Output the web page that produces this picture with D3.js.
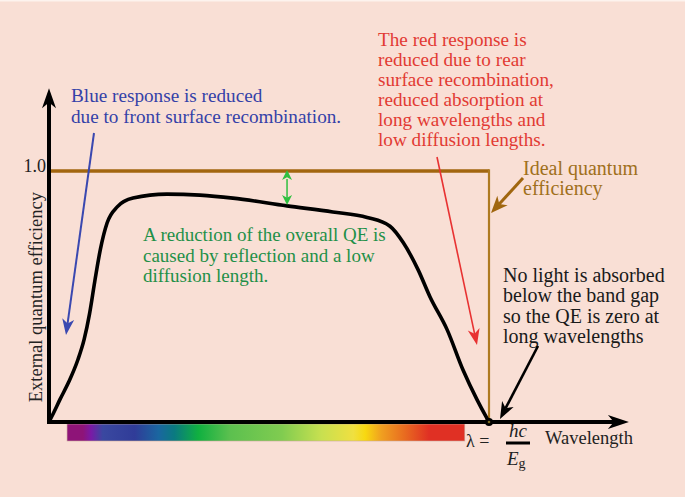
<html>
<head>
<title>Quantum efficiency</title>
<script src="https://cdn.jsdelivr.net/npm/d3@7"></script>
<style>
    body { margin: 0; background: #f9dfd5; }
</style>
</head>
<body>
<script>
// measured QE curve, wavelength as a fraction of the band gap wavelength
let wavelength = [0, 0.01, 0.025, 0.045, 0.065, 0.08, 0.092, 0.104, 0.117, 0.132, 0.155, 0.191, 0.268, 0.343, 0.418, 0.541, 0.645, 0.723, 0.775, 0.805, 0.839, 0.866, 0.905, 0.941, 0.973, 0.993, 1]
let qe = [0, 0.035, 0.09, 0.16, 0.245, 0.33, 0.43, 0.56, 0.69, 0.793, 0.857, 0.892, 0.908, 0.904, 0.892, 0.861, 0.837, 0.815, 0.78, 0.715, 0.606, 0.498, 0.367, 0.207, 0.088, 0.022, 0]
let idealQE = 1.0
let bandGap = 1.0
let yTickLabels = ["1.0"]
let spectrumRange = [0.041, 0.945]
let spectrumOffsets = [0, 0.04, 0.06, 0.09, 0.17, 0.23, 0.27, 0.33, 0.41, 0.54, 0.64, 0.72, 0.75, 0.79, 0.85, 0.91, 1]
let spectrumColors = ["#8e1478", "#8e1478", "#7a1aa6", "#3a48a0", "#303c98", "#1a66a0", "#0a7a80", "#10b040", "#5cc04f", "#80cc50", "#c8e050", "#f0e040", "#f8d810", "#f0a020", "#e86a20", "#e03024", "#e03024"]

let w = 685
let h = 497
let x0 = 49, x1 = 489
let y0 = 422, y1 = 171
let serif = "'Liberation Serif', 'Times New Roman', Times, serif"

let svg = d3.select("body").append("svg")
    .attr("width", w).attr("height", h)
    .attr("font-family", serif)

svg.append("rect").attr("width", w).attr("height", h).attr("fill", "#f9dfd5")
svg.append("rect").attr("width", w).attr("height", 1.5).attr("fill", "#fdf3ee")

let x = d3.scaleLinear().domain([0, 1]).range([x0, x1])
let y = d3.scaleLinear().domain([0, 1]).range([y0, y1])

function arrowHead(g, tx, ty, fx, fy, len, half, color) {
    let a = Math.atan2(ty - fy, tx - fx)
    let c = Math.cos(a), s = Math.sin(a)
    let pt = (u, v) => [tx - u * c - v * s, ty - u * s + v * c]
    let p = [pt(0, 0), pt(len, -half), pt(len * 0.72, 0), pt(len, half)]
    g.append("path").attr("d", "M" + p.map(d => d.join(",")).join("L") + "Z").attr("fill", color)
}
function arrow(fx, fy, tx, ty, color, sw, len, half) {
    let a = Math.atan2(ty - fy, tx - fx)
    svg.append("line")
        .attr("x1", fx).attr("y1", fy)
        .attr("x2", tx - Math.cos(a) * len * 0.7).attr("y2", ty - Math.sin(a) * len * 0.7)
        .attr("stroke", color).attr("stroke-width", sw)
    arrowHead(svg, tx, ty, fx, fy, len, half, color)
}

// spectrum bar
let grad = svg.append("defs").append("linearGradient").attr("id", "spec")
grad.selectAll("stop").data(spectrumOffsets).enter().append("stop")
    .attr("offset", d => d)
    .attr("stop-color", (d, i) => spectrumColors[i])
svg.append("rect")
    .attr("x", x(spectrumRange[0])).attr("y", y0 + 2)
    .attr("width", x(spectrumRange[1]) - x(spectrumRange[0])).attr("height", 17)
    .attr("fill", "url(#spec)")
    .attr("stroke", "#c9a89a").attr("stroke-width", 0.6)

// ideal QE
svg.append("path")
    .attr("d", "M" + x(0) + "," + y(idealQE) + "H" + x(bandGap))
    .attr("stroke", "#a2660f").attr("stroke-width", 3.5).attr("fill", "none")
svg.append("line")
    .attr("x1", x(bandGap)).attr("x2", x(bandGap))
    .attr("y1", y(idealQE) - 1.7).attr("y2", y(0))
    .attr("stroke", "#ae7a22").attr("stroke-width", 2.2)

// measured QE curve
let line = d3.line()
    .x((d, i) => x(wavelength[i]))
    .y(d => y(d))
    .curve(d3.curveMonotoneX)
svg.append("path")
    .datum(qe)
    .attr("d", line)
    .attr("fill", "none").attr("stroke", "#000").attr("stroke-width", 3.6)

// axes
svg.append("line").attr("x1", x(0)).attr("x2", x(1.29)).attr("y1", y0).attr("y2", y0)
    .attr("stroke", "#000").attr("stroke-width", 4)
arrowHead(svg, x(1.318), y0, x(0), y0, 21, 7, "#000")
svg.append("line").attr("x1", x0).attr("x2", x0).attr("y1", y0 + 2).attr("y2", y(1.28))
    .attr("stroke", "#000").attr("stroke-width", 4)
arrowHead(svg, x0, y(1.33), x0, y0, 20, 7, "#000")

svg.selectAll(".ytick").data(yTickLabels).enter().append("text")
    .attr("x", x0 - 3).attr("y", y(idealQE) + 1)
    .attr("text-anchor", "end").attr("font-size", 18).attr("fill", "#222")
    .text(d => d)

svg.append("text")
    .attr("transform", "translate(42," + ((y0 + y(1.33)) / 2 + 42) + ") rotate(-90)")
    .attr("text-anchor", "middle").attr("font-size", 18.5).attr("fill", "#222")
    .text("External quantum efficiency")

svg.append("text").attr("x", 545).attr("y", 444)
    .attr("font-size", 18.5).attr("fill", "#222").text("Wavelength")

// lambda = hc / Eg
svg.append("text").attr("x", 466).attr("y", 447)
    .attr("font-size", 18).attr("fill", "#222").text("λ =")
svg.append("text").attr("x", 518).attr("y", 437).attr("text-anchor", "middle")
    .attr("font-size", 19).attr("font-style", "italic").attr("fill", "#222").text("hc")
svg.append("line").attr("x1", 506).attr("x2", 530).attr("y1", 443).attr("y2", 443)
    .attr("stroke", "#000").attr("stroke-width", 3)
let eg = svg.append("text").attr("x", 507).attr("y", 465)
    .attr("font-size", 19).attr("fill", "#222")
eg.append("tspan").attr("font-style", "italic").text("E")
eg.append("tspan").attr("font-size", 14).attr("dy", 3).text("g")

// end point
svg.append("circle").attr("cx", x(bandGap)).attr("cy", y(0)).attr("r", 4)
    .attr("fill", "#000")
svg.append("circle").attr("cx", x(bandGap)).attr("cy", y(0)).attr("r", 1.3)
    .attr("fill", "#7a6a20")

// annotations
function block(lines, tx, ty, lh, color, size) {
    let t = svg.append("text").attr("font-size", size).attr("fill", color)
    t.selectAll("tspan").data(lines).enter().append("tspan")
        .attr("x", tx).attr("y", (d, i) => ty + i * lh).text(d => d)
}
block(["Blue response is reduced", "due to front surface recombination."], 71, 102, 21, "#3441a8", 19.2)
block(["The red response is", "reduced due to rear", "surface recombination,", "reduced absorption at",
       "long wavelengths and", "low diffusion lengths."], 378, 46, 20, "#e23a33", 19.2)
block(["Ideal quantum", "efficiency"], 523, 175, 20, "#a0701c", 20)
block(["No light is absorbed", "below the band gap", "so the QE is zero at", "long wavelengths"], 503, 282, 20.3, "#1a1a1a", 20)
block(["A reduction of the overall QE is", "caused by reflection and a low", "diffusion length."], 143, 241, 20.5, "#1f9048", 19)

arrow(94, 133, 66, 335, "#3a48b0", 2, 16, 6)
arrow(437, 157, 477, 345, "#e83232", 1.6, 16, 6)
arrow(523, 178, 491, 213, "#a0660f", 3, 17, 7)
arrow(538, 346, 500, 419, "#000", 2.6, 17, 6.5)

// gap between ideal and measured
let gx = x(0.541)
svg.append("line").attr("x1", gx).attr("x2", gx)
    .attr("y1", y(idealQE) + 8).attr("y2", y(0.861) - 8)
    .attr("stroke", "#2fbf3f").attr("stroke-width", 1.5)
arrowHead(svg, gx, y(idealQE) - 1, gx, y(0.861), 10, 5, "#2fbf3f")
arrowHead(svg, gx, y(0.861) - 1, gx, y(idealQE), 10, 5, "#2fbf3f")
</script>
</body>
</html>
